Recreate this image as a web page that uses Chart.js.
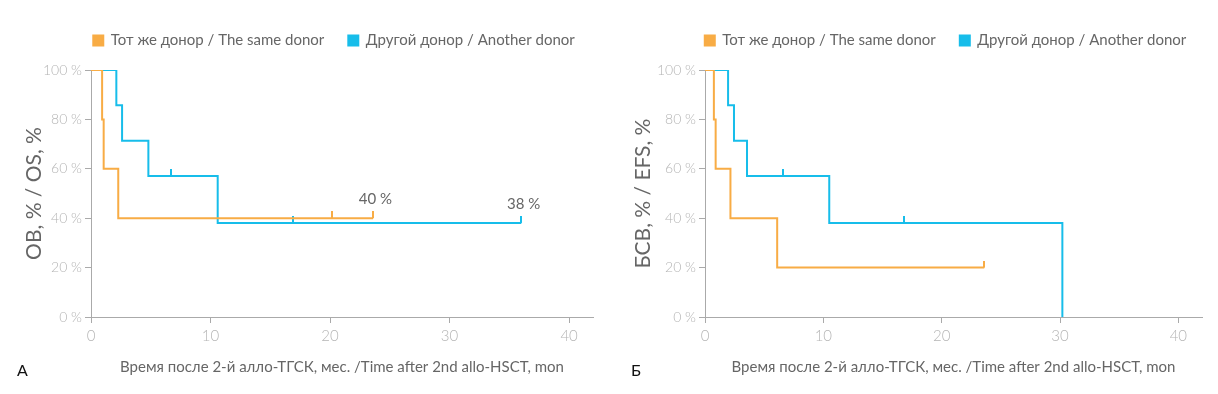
<!DOCTYPE html>
<html>
<head>
<meta charset="utf-8">
<script src="https://cdn.jsdelivr.net/npm/chart.js@4/dist/chart.umd.min.js"></script>
<style>
  body { margin: 0; background: #fff; width: 1218px; height: 394px; position: relative; overflow: hidden; }
  .panel { position: absolute; top: 0; width: 609px; height: 394px; }
  .letter { position: absolute; top: 360px; font: 16px Lato, "Open Sans", sans-serif; color: #111; }
</style>
</head>
<body>
<div class="panel" style="left:0"><canvas id="osChart" width="609" height="394"></canvas></div>
<div class="panel" style="left:609px"><canvas id="efsChart" width="609" height="394"></canvas></div>
<div class="letter" style="left:17px">А</div>
<div class="letter" style="left:631px">Б</div>
<script>
// series names
var seriesNames = ["Тот же донор / The same donor", "Другой донор / Another donor"];
var xTitle = "Время после 2-й алло-ТГСК, мес. /Time after 2nd allo-HSCT, mon";

// A: overall survival (months, %)
var osSameTime = [0, 0.93, 1.06, 2.28, 23.6];
var osSameSurv = [100, 80, 60, 40, 40];
var osOtherTime = [0, 2.12, 2.6, 4.8, 10.6, 36.0];
var osOtherSurv = [100, 85.7, 71.4, 57.1, 38.1, 38.1];
var osSameCensTime = [20.2, 23.6];
var osSameCensSurv = [40, 40];
var osOtherCensTime = [6.7, 16.9, 36.0];
var osOtherCensSurv = [57.1, 38.1, 38.1];
var osNoteText = ["40 %", "38 %"];
var osNoteTime = [23.8, 36.2];
var osNoteSurv = [40, 38.1];

// Б: event-free survival
var efsSameTime = [0, 0.75, 0.9, 2.15, 6.1, 23.6];
var efsSameSurv = [100, 80, 60, 40, 20, 20];
var efsOtherTime = [0, 1.95, 2.45, 3.55, 10.5, 30.2];
var efsOtherSurv = [100, 85.7, 71.4, 57.1, 38.1, 0];
var efsSameCensTime = [23.6];
var efsSameCensSurv = [20];
var efsOtherCensTime = [6.6, 16.8];
var efsOtherCensSurv = [57.1, 38.1];

var xTicks = [0, 10, 20, 30, 40];
var yTicks = [0, 20, 40, 60, 80, 100];

var orange = "#F8AC45";
var blue = "#17BDEA";
var fontFamily = 'Lato, "Open Sans", sans-serif';

function pts(xs, ys) {
  return xs.map(function (x, i) { return { x: x, y: ys[i] }; });
}

// small vertical tick above the line for censored cases
function censorMark(color) {
  var c = document.createElement("canvas");
  c.width = 2;
  c.height = 14;
  var g = c.getContext("2d");
  g.fillStyle = color;
  g.fillRect(0, 0, 2, 7);
  return c;
}

var notesPlugin = {
  id: "notes",
  afterDatasetsDraw: function (chart, args, opts) {
    if (!opts.text) return;
    var ctx = chart.ctx;
    ctx.save();
    ctx.font = "15px " + fontFamily;
    ctx.fillStyle = "#666";
    ctx.textAlign = "center";
    ctx.textBaseline = "middle";
    opts.text.forEach(function (t, i) {
      var x = chart.scales.x.getPixelForValue(opts.x[i]);
      var y = chart.scales.y.getPixelForValue(opts.y[i]);
      ctx.fillText(t, x, y - 19);
    });
    ctx.restore();
  }
};

var legendPlugin = {
  id: "legendShift",
  beforeInit: function (chart) {
    var fit = chart.legend.fit;
    chart.legend.fit = function () {
      fit.bind(chart.legend)();
      this.height += 12;
    };
  },
  afterLayout: function (chart) {
    var lg = chart.legend;
    var ca = chart.chartArea;
    var d = (ca.left + ca.right) / 2 - 8 - (lg.left + lg.right) / 2;
    lg.left += d;
    lg.right += d;
    lg.legendHitBoxes.forEach(function (b) { b.left += d; });
  }
};

function makeChart(id, yTitle, yWidth, series, notes) {
  var ctx = document.getElementById(id).getContext("2d");
  return new Chart(ctx, {
    type: "line",
    data: {
      datasets: [
        {
          label: seriesNames[0],
          data: series[0],
          borderColor: orange,
          backgroundColor: orange,
          borderWidth: 2,
          stepped: "before",
          pointRadius: 0
        },
        {
          label: seriesNames[1],
          data: series[1],
          borderColor: blue,
          backgroundColor: blue,
          borderWidth: 2,
          stepped: "before",
          pointRadius: 0
        },
        {
          label: "censored same",
          data: series[2],
          showLine: false,
          pointStyle: censorMark(orange),
          pointRadius: 4
        },
        {
          label: "censored other",
          data: series[3],
          showLine: false,
          pointStyle: censorMark(blue),
          pointRadius: 4
        }
      ]
    },
    options: {
      responsive: false,
      animation: false,
      devicePixelRatio: 1,
      layout: { padding: { top: 9, right: 16, bottom: 14, left: 0 } },
      plugins: {
        legend: {
          position: "top",
          labels: {
            boxWidth: 10,
            boxHeight: 10,
            padding: 24,
            color: "#666",
            font: { family: fontFamily, size: 15 },
            filter: function (item) { return item.datasetIndex < 2; }
          }
        },
        tooltip: { enabled: false },
        notes: notes
      },
      scales: {
        x: {
          type: "linear",
          min: 0,
          max: 42,
          afterBuildTicks: function (s) {
            s.ticks = xTicks.map(function (v) { return { value: v }; });
          },
          grid: { drawOnChartArea: false, color: "#aaa", tickLength: 6 },
          border: { color: "#aaa", width: 1 },
          ticks: { color: "#b5b5b5", padding: 4, font: { family: fontFamily, size: 15, weight: "300" } },
          title: {
            display: true,
            text: xTitle,
            color: "#666",
            padding: { top: 9, bottom: 4 },
            font: { family: fontFamily, size: 15 }
          }
        },
        y: {
          min: 0,
          max: 100,
          afterBuildTicks: function (s) {
            s.ticks = yTicks.map(function (v) { return { value: v }; });
          },
          afterFit: function (s) { s.width = yWidth; },
          grid: { drawOnChartArea: false, color: "#aaa", tickLength: 6 },
          border: { color: "#aaa", width: 1 },
          ticks: {
            color: "#b5b5b5",
            padding: 3,
            font: { family: fontFamily, size: 14, weight: "300" },
            callback: function (v) { return v + " %"; }
          },
          title: {
            display: true,
            text: yTitle,
            color: "#666",
            padding: { top: 22, bottom: 0 },
            font: { family: fontFamily, size: 21 }
          }
        }
      }
    },
    plugins: [notesPlugin, legendPlugin]
  });
}

makeChart("osChart", "ОВ, % / OS, %", 91, [
  pts(osSameTime, osSameSurv),
  pts(osOtherTime, osOtherSurv),
  pts(osSameCensTime, osSameCensSurv),
  pts(osOtherCensTime, osOtherCensSurv)
], { text: osNoteText, x: osNoteTime, y: osNoteSurv });

makeChart("efsChart", "БСВ, % / EFS, %", 96, [
  pts(efsSameTime, efsSameSurv),
  pts(efsOtherTime, efsOtherSurv),
  pts(efsSameCensTime, efsSameCensSurv),
  pts(efsOtherCensTime, efsOtherCensSurv)
], {});
</script>
</body>
</html>
